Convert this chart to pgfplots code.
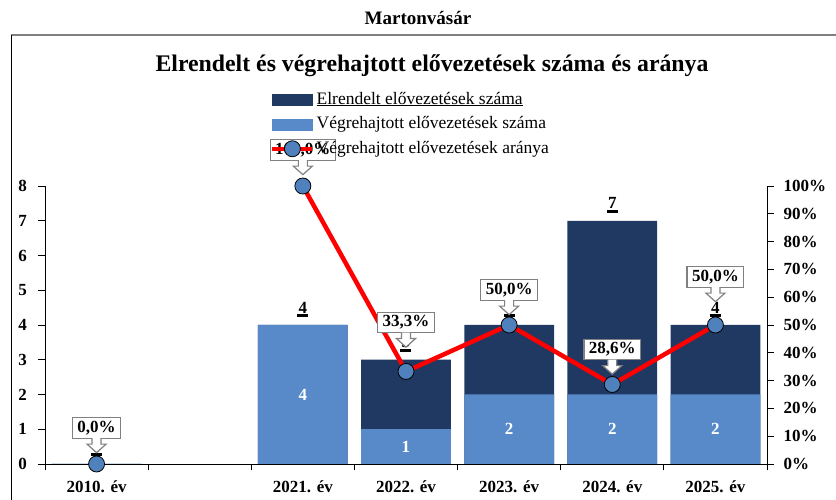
\documentclass[border=0pt]{standalone}
\usepackage{fontspec}
\setmainfont{Liberation Serif}
\usepackage{pgfplots}
\usepackage{pgfplotstable}
\pgfplotsset{compat=1.18}

\definecolor{darkbar}{RGB}{31,57,99}
\definecolor{lightbar}{RGB}{88,138,202}
\definecolor{dotblue}{RGB}{79,129,189}

\pgfplotstableread{
x elr vegr
0 0 0
2 4 4
3 3 1
4 4 2
5 7 2
6 4 2
}\bars
\pgfplotstableread{
x arany
0 0
1 nan
2 100
3 33.3
4 50
5 28.6
6 50
}\ratio

\newcommand{\lbl}{\fontsize{17}{17}\selectfont\bfseries}
\newcommand{\callout}[4]{%
  \node[draw=gray, line width=1.2pt, fill=white, inner xsep=5pt, inner ysep=2.5pt,
        text height=12pt, text depth=3.5pt, font=\lbl, yshift=#3] (cb) at (axis cs:#1,#2) {#4};
  \path[fill=white, draw=gray, line width=1.2pt, line join=miter]
     ([shift={(-4.5pt,0.7pt)}]cb.south) -- ++(0pt,-6pt) -- ++(-5pt,0pt) -- ++(9.5pt,-8.5pt)
     -- ++(9.5pt,8.5pt) -- ++(-5pt,0pt) -- ++(0pt,6pt);
}

\begin{document}
\begin{tikzpicture}
\useasboundingbox (0pt,0pt) rectangle (836pt,500pt);
\draw[gray, line width=2pt] (11pt,465pt) -- (836pt,465pt);
\draw[black, line width=0.8pt] (11pt,465pt) -- (11pt,0pt);
\node[font=\fontsize{19}{19}\selectfont\bfseries] at (418pt,482pt) {Martonvásár};
\node[font=\fontsize{23.8}{23.8}\selectfont\bfseries] at (432pt,434pt) {Elrendelt és végrehajtott elővezetések száma és aránya};

\begin{axis}[
  at={(45pt,36pt)}, anchor=south west, scale only axis,
  width=722pt, height=278pt,
  xmin=-0.5, xmax=6.5, ymin=0, ymax=8,
  axis x line*=bottom, axis y line*=left,
  axis line style={line width=0.8pt},
  tick align=outside, major tick length=6.5pt,
  tick style={black, line width=0.9pt},
  ytick={0,1,...,8},
  xtick={-0.5,0.5,1.5,2.5,3.5,4.5,5.5,6.5},
  x tick label as interval,
  xticklabels={2010. év,,2021. év,2022. év,2023. év,2024. év,2025. év},
  /pgf/number format/assume math mode=true,
  ticklabel style={font=\lbl},
  yticklabel style={xshift=-8pt},
  xticklabel style={yshift=-7pt},
  clip=false,
]
\addplot[ybar, bar width=0.87, bar shift=0pt, fill=darkbar, draw=none,
  nodes near coords={\shortstack{\pgfmathprintnumber{\pgfplotspointmeta}\\[-2pt]\rule{11pt}{2.6pt}}},
  every node near coord/.append style={font=\lbl, black, anchor=south, inner sep=0pt, yshift=8pt}]
  table[x=x, y=elr]{\bars};
\addplot[ybar, bar width=0.87, bar shift=0pt, fill=lightbar, draw=none]
  table[x=x, y=vegr]{\bars};
\addplot[draw=none, point meta=explicit,
  y filter/.expression={y==0 ? nan : y},
  nodes near coords={\pgfmathprintnumber{\pgfplotspointmeta}},
  every node near coord/.append style={font=\lbl, white, anchor=center}]
  table[x=x, y expr=\thisrow{vegr}/2, meta=vegr]{\bars};
\end{axis}

\begin{axis}[
  at={(45pt,36pt)}, anchor=south west, scale only axis,
  width=722pt, height=278pt,
  xmin=-0.5, xmax=6.5, ymin=0, ymax=100,
  axis x line=none, axis y line*=right,
  axis line style={line width=0.8pt},
  tick align=outside, major tick length=6.5pt,
  tick style={black, line width=0.9pt},
  ytick={0,10,...,100},
  yticklabel={\pgfmathprintnumber{\tick}\%},
  /pgf/number format/assume math mode=true,
  ticklabel style={font=\lbl},
  yticklabel style={xshift=6.5pt},
  unbounded coords=jump,
  clip=false,
  legend style={at={(axis description cs:0.3116,1.355)}, anchor=north west,
     draw=none, fill=none, inner sep=0pt, row sep=0pt,
     font=\fontsize{17.5}{17.5}\selectfont,
     nodes={inner sep=2pt, text height=14.5pt, text depth=6pt}},
  legend cell align=left,
]
\addlegendimage{legend image code/.code={\fill[darkbar] (0pt,-5.5pt) rectangle (40pt,5.5pt);}}
\addlegendentry{\underline{Elrendelt elővezetések száma}}
\addlegendimage{legend image code/.code={\fill[lightbar] (0pt,-5.5pt) rectangle (40pt,5.5pt);}}
\addlegendentry{Végrehajtott elővezetések száma}
\addplot[red, line width=4.5pt, mark=*, mark size=8pt,
  mark options={fill=dotblue, draw=black, line width=0.8pt},
  legend image code/.code={\draw[red, line width=4.5pt] (0pt,0pt) -- (40pt,0pt); \filldraw[fill=dotblue, draw=black, line width=0.8pt] (20pt,0pt) circle (8pt);}]
  table[x=x, y=arany]{\ratio};
\addlegendentry{Végrehajtott elővezetések aránya}
\callout{0}{0}{36pt}{0,0\%}
\callout{2}{100}{36pt}{100,0\%}
\callout{3}{33.3}{49pt}{33,3\%}
\callout{4}{50}{35pt}{50,0\%}
\callout{5}{28.6}{35pt}{28,6\%}
\callout{6}{50}{48pt}{50,0\%}
\end{axis}
\end{tikzpicture}
\end{document}
